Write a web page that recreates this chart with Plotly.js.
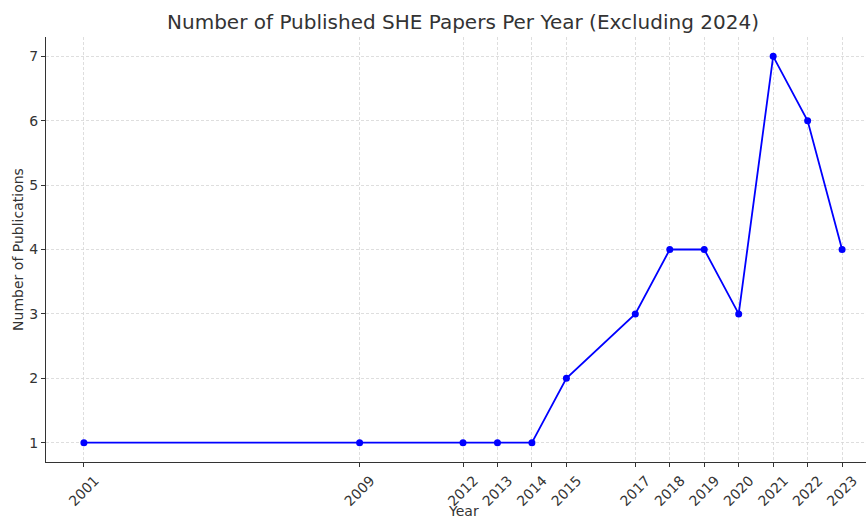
<!DOCTYPE html>
<html>
<head>
<meta charset="utf-8">
<script src="https://cdn.plot.ly/plotly-3.0.1.min.js"></script>
<style>html,body{margin:0;padding:0;background:#fff;overflow:hidden;}#wrap{width:866px;height:521px;overflow:hidden;}#chart{width:880px;height:521px;}</style>
</head>
<body>
<div id="wrap"><div id="chart"></div></div>
<script>
const years = [2001, 2009, 2012, 2013, 2014, 2015, 2017, 2018, 2019, 2020, 2021, 2022, 2023];
const publications = [1, 1, 1, 1, 1, 2, 3, 4, 4, 3, 7, 6, 4];
const yTicks = [1, 2, 3, 4, 5, 6, 7];

const trace = {
  x: years,
  y: publications,
  type: 'scatter',
  mode: 'lines+markers',
  line: {color: '#0000ff', width: 1.8},
  marker: {color: '#0000ff', size: 7},
  hoverinfo: 'x+y'
};

const font = "DejaVu Sans, sans-serif";
const layout = {
  width: 880,
  height: 521,
  margin: {l: 46, r: 0, t: 37, b: 59},
  paper_bgcolor: '#ffffff',
  plot_bgcolor: '#ffffff',
  showlegend: false,
  font: {family: font, color: '#333333', size: 14},
  title: {
    text: 'Number of Published SHE Papers Per Year (Excluding 2024)',
    font: {family: font, size: 20, color: '#333333'},
    x: 0.5, xref: 'paper', xanchor: 'center',
    y: 0.958, yref: 'container', yanchor: 'middle'
  },
  xaxis: {
    range: [1999.9, 2024.1],
    tickmode: 'array',
    tickvals: years,
    ticktext: years.map(String),
    tickangle: -45,
    ticklabelshift: 11,
    ticks: 'outside', ticklen: 4, tickwidth: 1, tickcolor: '#333333',
    tickfont: {family: font, size: 14, color: '#333333'},
    showline: true, linecolor: '#333333', linewidth: 1, mirror: false,
    showgrid: true, gridcolor: '#d6d6d6', griddash: '3px,2px', gridwidth: 0.8,
    zeroline: false,
    automargin: false
  },
  yaxis: {
    range: [0.7, 7.3],
    tickmode: 'array',
    tickvals: yTicks,
    ticktext: yTicks.map(String),
    ticks: 'outside', ticklen: 4, tickwidth: 1, tickcolor: '#333333',
    tickfont: {family: font, size: 14, color: '#333333'},
    showline: true, linecolor: '#333333', linewidth: 1, mirror: false,
    showgrid: true, gridcolor: '#d6d6d6', griddash: '3px,2px', gridwidth: 0.8,
    zeroline: false,
    automargin: false,
    title: {text: 'Number of Publications', font: {family: font, size: 14, color: '#333333'}, standoff: 2}
  },
  annotations: [{
    text: 'Year', xref: 'paper', yref: 'paper', x: 0.5, y: -0.116,
    xanchor: 'center', yanchor: 'middle', showarrow: false,
    font: {family: font, size: 14, color: '#333333'}
  }]
};

Plotly.newPlot('chart', [trace], layout, {displayModeBar: false, staticPlot: true});
</script>
</body>
</html>
